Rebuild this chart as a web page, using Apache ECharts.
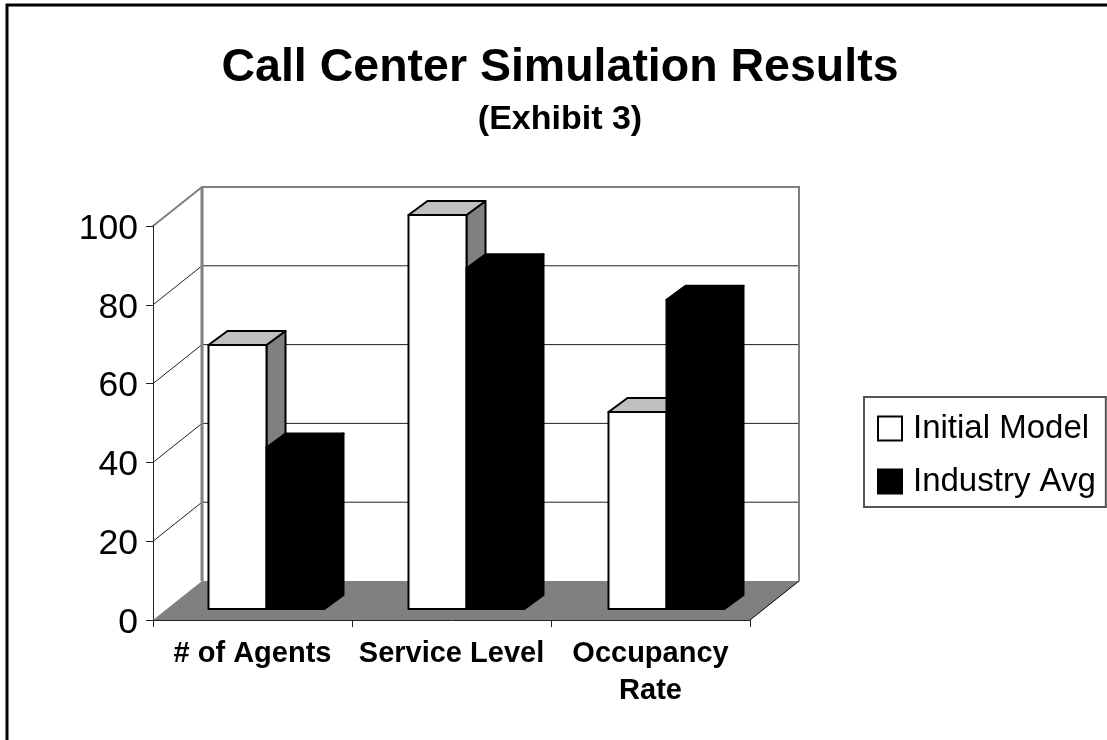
<!DOCTYPE html>
<html>
<head>
<meta charset="utf-8">
<title>Call Center Simulation Results</title>
<script src="https://cdn.jsdelivr.net/npm/echarts@6/dist/echarts.min.js"></script>
<style>
html, body { margin: 0; padding: 0; background: #fff; }
#container { width: 1107px; height: 740px; }
</style>
</head>
<body>
<div id="container"></div>
<script>
// chart data
var categories = ['# of Agents', 'Service Level', 'Occupancy\nRate'];
var initialModel = [67, 100, 50];
var industryAvg = [41, 86.5, 78.5];
var yTicks = [0, 20, 40, 60, 80, 100];

// fake 3d: how far the back wall and the bars are pushed up and right
var wallDx = 49, wallDy = 39;
var barShiftX = 14, barShiftY = 11;
var barSpread = 1;
var barDx = 19, barDy = 14;
var barFraction = 0.2915;
var fontName = '"Liberation Sans", Arial, sans-serif';

var myChart = echarts.init(document.getElementById('container'));

// back wall, side wall and floor
function renderWalls(params, api) {
    var v = api.value(0);
    var nCat = categories.length;
    var left = api.coord([0, v]);
    var cw = api.size([1, 0])[0];
    var x0 = left[0] - cw / 2;
    var x1 = x0 + cw * nCat;
    var y = left[1];
    var children = [];
    if (v === 0) {
        children.push({
            type: 'polygon',
            shape: { points: [[x0, y], [x1, y], [x1 + wallDx, y - wallDy], [x0 + wallDx, y - wallDy]] },
            style: { fill: '#808080' }
        });
        children.push({
            type: 'line',
            shape: { x1: x1, y1: y, x2: x1 + wallDx, y2: y - wallDy },
            style: { stroke: '#000', lineWidth: 1 }
        });
    } else if (v === yTicks[yTicks.length - 1]) {
        var bottom = api.coord([0, 0])[1];
        children.push({
            type: 'polyline',
            shape: { points: [[x0, y], [x0 + wallDx, y - wallDy], [x1 + wallDx, y - wallDy], [x1 + wallDx, bottom - wallDy]] },
            style: { stroke: '#808080', lineWidth: 2, fill: 'none' }
        });
        children.push({
            type: 'line',
            shape: { x1: x0 + wallDx, y1: y - wallDy, x2: x0 + wallDx, y2: bottom - wallDy },
            style: { stroke: '#808080', lineWidth: 3 }
        });
    } else {
        children.push({
            type: 'polyline',
            shape: { points: [[x0, y], [x0 + wallDx, y - wallDy], [x1 + wallDx, y - wallDy]] },
            style: { stroke: '#222', lineWidth: 1, fill: 'none' }
        });
    }
    return { type: 'group', children: children };
}

// one bar, offset: -1 is the left bar of the pair, 0 the right one
function makeBarRenderer(offset, frontFill, topFill, sideFill) {
    return function (params, api) {
        var idx = api.value(0);
        var base = api.coord([idx, 0]);
        var top = api.coord([idx, api.value(1)]);
        var w = api.size([1, 0])[0] * barFraction;
        var x = base[0] + barShiftX + idx * barSpread + offset * w;
        var yb = base[1] - barShiftY;
        var yt = top[1] - barShiftY;
        var lineStyle = { stroke: '#000', lineWidth: 2, lineJoin: 'round' };
        return {
            type: 'group',
            children: [
                {
                    type: 'polygon',
                    shape: { points: [[x + w, yt], [x + w + barDx, yt - barDy], [x + w + barDx, yb - barDy], [x + w, yb]] },
                    style: Object.assign({ fill: sideFill }, lineStyle)
                },
                {
                    type: 'polygon',
                    shape: { points: [[x, yt], [x + barDx, yt - barDy], [x + w + barDx, yt - barDy], [x + w, yt]] },
                    style: Object.assign({ fill: topFill }, lineStyle)
                },
                {
                    type: 'rect',
                    shape: { x: x, y: yt, width: w, height: yb - yt },
                    style: Object.assign({ fill: frontFill }, lineStyle)
                }
            ]
        };
    };
}

var option = {
    animation: false,
    backgroundColor: '#fff',
    title: {
        text: 'Call Center Simulation Results',
        subtext: '(Exhibit 3)',
        left: 555,
        top: 40,
        textAlign: 'center',
        itemGap: 11,
        textStyle: { fontFamily: fontName, fontSize: 46.5, fontWeight: 'bold', color: '#000' },
        subtextStyle: { fontFamily: fontName, fontSize: 34, fontWeight: 'bold', color: '#000' }
    },
    legend: {
        orient: 'vertical',
        left: 864,
        top: 397,
        padding: [15, 10, 9, 13],
        icon: 'rect',
        itemWidth: 24,
        itemHeight: 24,
        itemGap: 20,
        borderColor: '#555',
        borderWidth: 2,
        data: ['Initial Model', 'Industry Avg'],
        textStyle: { fontFamily: fontName, fontSize: 33, color: '#000', padding: [0, 0, 0, 6] }
    },
    grid: { left: 153, top: 226, width: 597, height: 394 },
    xAxis: {
        type: 'category',
        data: categories,
        z: 5,
        axisLine: { lineStyle: { color: '#222', width: 1 } },
        axisTick: { show: true, length: 7, lineStyle: { color: '#222', width: 1 } },
        axisLabel: {
            interval: 0,
            margin: 15,
            lineHeight: 37,
            fontFamily: fontName,
            fontSize: 29,
            fontWeight: 'bold',
            color: '#000'
        }
    },
    yAxis: {
        type: 'value',
        min: 0,
        max: 100,
        interval: 20,
        z: 5,
        axisLine: { show: true, lineStyle: { color: '#222', width: 1 } },
        axisTick: { show: true, length: 7, lineStyle: { color: '#222', width: 1 } },
        splitLine: { show: false },
        axisLabel: {
            margin: 15,
            formatter: '{a|{value}}',
            rich: { a: { padding: [6, 0, 0, 0], fontFamily: fontName, fontSize: 35.5, color: '#000' } }
        }
    },
    graphic: [{
        type: 'rect',
        silent: true,
        z: 0,
        shape: { x: 7, y: 5, width: 1140, height: 780 },
        style: { fill: 'none', stroke: '#000', lineWidth: 3 }
    }],
    series: [
        {
            type: 'custom',
            name: 'walls',
            z: 1,
            silent: true,
            renderItem: renderWalls,
            encode: { x: -1, y: 0 },
            data: yTicks
        },
        {
            type: 'custom',
            name: 'Initial Model',
            z: 3,
            itemStyle: { color: '#fff', borderColor: '#000', borderWidth: 2 },
            renderItem: makeBarRenderer(-1, '#fff', '#c0c0c0', '#808080'),
            encode: { x: 0, y: 1 },
            data: initialModel.map(function (v, i) { return [i, v]; })
        },
        {
            type: 'custom',
            name: 'Industry Avg',
            z: 3,
            itemStyle: { color: '#000', borderColor: '#000', borderWidth: 2 },
            renderItem: makeBarRenderer(0, '#000', '#000', '#000'),
            encode: { x: 0, y: 1 },
            data: industryAvg.map(function (v, i) { return [i, v]; })
        }
    ]
};

myChart.setOption(option);
</script>
</body>
</html>
